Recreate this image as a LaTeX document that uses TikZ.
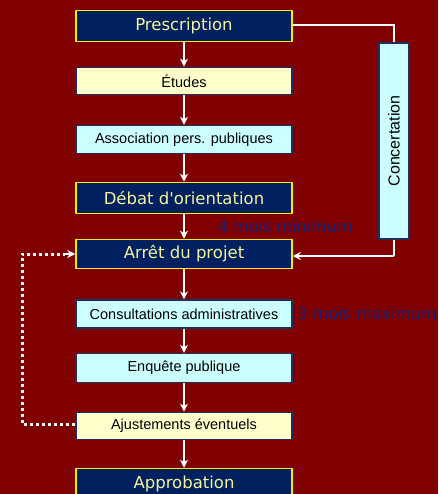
\documentclass[tikz,border=0pt]{standalone}
\usepackage{fontspec}
\setmainfont{Liberation Sans}
\newfontfamily\dvfont{DejaVu Sans}
\usetikzlibrary{arrows.meta}
\definecolor{bgred}{HTML}{800000}
\definecolor{navy}{HTML}{002060}
\definecolor{bordyel}{HTML}{F0F000}
\definecolor{txtyel}{HTML}{F4F49C}
\definecolor{lyel}{HTML}{FFFFCC}
\definecolor{lcyan}{HTML}{CCFFFF}
\definecolor{lbord}{HTML}{1F3060}
\definecolor{notecol}{HTML}{1A2070}
\tikzset{
  darkbox/.style={draw=bordyel, fill=navy, line width=1.5pt, minimum width=216pt, minimum height=31pt, inner sep=0pt, text=txtyel, font=\dvfont\fontsize{16.5}{18}\selectfont},
  yelbox/.style={draw=lbord, fill=lyel, line width=1.3pt, minimum width=216pt, minimum height=27.5pt, inner sep=0pt, text=black, font=\fontsize{14.5}{16}\selectfont},
  cyanbox/.style={draw=lbord, fill=lcyan, line width=1.3pt, minimum width=216pt, minimum height=28pt, inner sep=0pt, text=black, font=\fontsize{14.5}{16}\selectfont},
  flow/.style={draw=white, line width=2.2pt, -{Stealth[length=8pt,width=8pt,inset=2.5pt]}},
  link/.style={draw=white, line width=2.2pt},
  dotlink/.style={draw=white, line width=3pt, dash pattern=on 3pt off 3pt},
  note/.style={text=notecol, font=\dvfont\fontsize{16}{18}\selectfont, inner sep=0pt, anchor=west}
}
\begin{document}
\begin{tikzpicture}[x=1pt,y=-1pt]
\useasboundingbox (0,0) rectangle (438,494);
\clip (0,0) rectangle (438,494);
\fill[bgred] (0,0) rectangle (438,494);
\node[darkbox] (presc) at (184,26) {Prescription};
\node[yelbox] (etudes) at (184,81) {Études};
\node[cyanbox] (assoc) at (184,139.5) {Association pers. publiques};
\node[darkbox] (debat) at (184,198) {Débat d'orientation};
\node[darkbox, minimum height=29pt] (arret) at (184,254) {Arrêt du projet};
\node[cyanbox] (consult) at (184,314) {Consultations administratives};
\node[cyanbox, minimum height=29pt] (enq) at (184,368) {Enquête publique};
\node[yelbox] (ajust) at (184,426) {Ajustements éventuels};
\node[darkbox] (approb) at (184,484) {Approbation};
\node[draw=lbord, fill=lcyan, line width=1.3pt, minimum width=30pt, minimum height=196pt, inner sep=0pt] (conc) at (394,141) {};
\node[rotate=90, font=\fontsize{16}{18}\selectfont, text=black] (conctxt) at (conc.center) {Concertation};
\node[note] (n4) at (218,227) {4 mois minimum};
\node[note] (n3) at (297.5,314) {3 mois maximum};
\draw[flow] (presc) -- (etudes);
\draw[flow] (etudes) -- (assoc);
\draw[flow] (assoc) -- (debat);
\draw[flow] (debat) -- (arret);
\draw[flow] (arret) -- (consult);
\draw[flow] (consult) -- (enq);
\draw[flow] (enq) -- (ajust);
\draw[flow] (ajust) -- (approb);
\draw[link] ([yshift=1pt]presc.east) -| (conc.north);
\coordinate (cturn) at (394,256);
\draw[link] (conc.south) -- (cturn);
\draw[flow] (cturn) -- (cturn -| arret.east);
\coordinate (dl) at (22,424);
\draw[dotlink] (ajust.west |- dl) -- (dl) -- (dl |- arret.west) -- ([xshift=-10pt]arret.west);
\draw[flow] ([xshift=-11pt]arret.west) -- (arret.west);
\end{tikzpicture}
\end{document}
